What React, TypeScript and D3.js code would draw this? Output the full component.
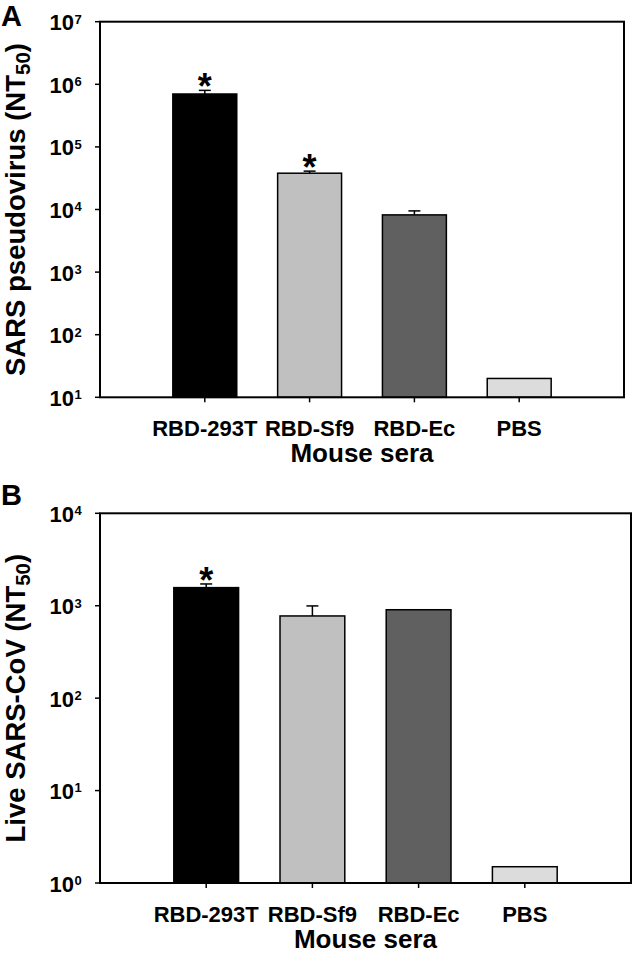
import React from "react";
import * as d3 from "d3";

const categories = ["RBD-293T", "RBD-Sf9", "RBD-Ec", "PBS"];
const barColors = ["#000000", "#c0c0c0", "#606060", "#dcdcdc"];

// Panel A: SARS pseudovirus NT50
const pseudoMeans = [700000, 38000, 8200, 20];
const pseudoErrors = [100000, 3000, 1300, 0];
const pseudoStars = [true, true, false, false];
const pseudoTickExps = [1, 2, 3, 4, 5, 6, 7];

// Panel B: Live SARS-CoV NT50
const liveMeans = [1570, 775, 905, 1.5];
const liveErrors = [150, 220, 0, 0];
const liveStars = [true, false, false, false];
const liveTickExps = [0, 1, 2, 3, 4];

const FONT = "'Liberation Sans', Arial, Helvetica, sans-serif";

type PanelProps = {
  letter: string;
  letterY: number;
  titleMain: string;
  means: number[];
  errors: number[];
  stars: boolean[];
  tickExps: number[];
  left: number;
  right: number;
  top: number;
  bottom: number;
};

function Panel(p: PanelProps) {
  const y = d3
    .scaleLog()
    .domain([Math.pow(10, p.tickExps[0]), Math.pow(10, p.tickExps[p.tickExps.length - 1])])
    .range([p.bottom, p.top]);
  const x = d3.scaleLinear().domain([0, categories.length + 1]).range([p.left, p.right]);
  const step = x(1) - x(0);
  const bw = step * 0.61;
  const midY = (p.top + p.bottom) / 2;
  const midX = (p.left + p.right) / 2;
  return (
    <g fontFamily={FONT} fontWeight="bold">
      <text x={1} y={p.letterY} fontSize={29}>{p.letter}</text>
      {/* bars */}
      {categories.map((c, i) => {
        const cx = x(i + 1);
        const yt = y(p.means[i]);
        return (
          <rect key={c} x={cx - bw / 2} y={yt} width={bw} height={p.bottom - yt}
            fill={barColors[i]} stroke="#000" strokeWidth={1.5} />
        );
      })}
      {/* error bars */}
      {categories.map((c, i) => {
        if (!p.errors[i]) return null;
        const cx = x(i + 1);
        const y0 = y(p.means[i]);
        const y1 = y(p.means[i] + p.errors[i]);
        return (
          <g key={"e" + c} stroke="#000" strokeWidth={1.5}>
            <line x1={cx} x2={cx} y1={y0} y2={y1} />
            <line x1={cx - 6} x2={cx + 6} y1={y1} y2={y1} />
          </g>
        );
      })}
      {/* stars */}
      {categories.map((c, i) => {
        if (!p.stars[i]) return null;
        const cx = x(i + 1);
        const y1 = y(p.means[i] + p.errors[i]);
        return (
          <text key={"s" + c} x={cx} y={y1 + 9} fontSize={36} textAnchor="middle">*</text>
        );
      })}
      {/* frame */}
      <rect x={p.left} y={p.top} width={p.right - p.left} height={p.bottom - p.top}
        fill="none" stroke="#000" strokeWidth={2} />
      {/* y ticks */}
      {p.tickExps.map((e) => {
        const ty = y(Math.pow(10, e));
        return (
          <g key={"t" + e}>
            <line x1={p.left - 5} x2={p.left} y1={ty} y2={ty} stroke="#000" strokeWidth={1.5} />
            <text x={74} y={ty + 8.5} fontSize={22} textAnchor="end">10</text>
            <text x={74.5} y={ty + 1.8} fontSize={13}>{e}</text>
          </g>
        );
      })}
      {/* x ticks and labels */}
      {categories.map((c, i) => {
        const cx = x(i + 1);
        return (
          <g key={"x" + c}>
            <line x1={cx} x2={cx} y1={p.bottom} y2={p.bottom + 5} stroke="#000" strokeWidth={1.5} />
            <text x={cx} y={p.bottom + 39} fontSize={22} textAnchor="middle">{c}</text>
          </g>
        );
      })}
      <text x={midX} y={p.bottom + 65} fontSize={26} textAnchor="middle">Mouse sera</text>
      {/* y title */}
      <text transform={`translate(25,${midY}) rotate(-90)`} fontSize={27.5} textAnchor="middle">
        {p.titleMain}
        <tspan fontSize={20.5} dy={5}>50</tspan>
        <tspan dy={-5}>)</tspan>
      </text>
    </g>
  );
}

export default function App() {
  return (
    <svg width={634} height={953} style={{ position: "absolute", left: 0, top: 0, background: "#fff" }}>
      <rect x={0} y={0} width={634} height={953} fill="#fff" />
      <Panel letter="A" letterY={26} titleMain="SARS pseudovirus (NT" means={pseudoMeans}
        errors={pseudoErrors} stars={pseudoStars} tickExps={pseudoTickExps}
        left={100} right={624} top={21.7} bottom={397.3} />
      <Panel letter="B" letterY={505} titleMain="Live SARS-CoV (NT" means={liveMeans}
        errors={liveErrors} stars={liveStars} tickExps={liveTickExps}
        left={100} right={631} top={513.3} bottom={883} />
    </svg>
  );
}
